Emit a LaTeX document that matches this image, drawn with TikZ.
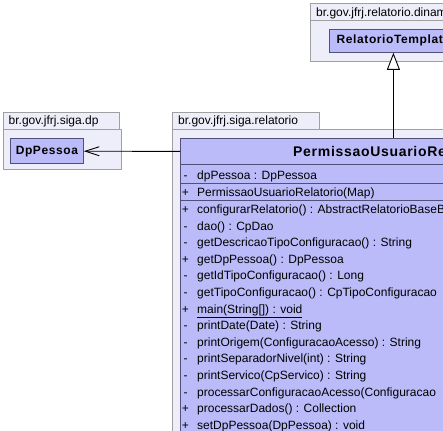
\documentclass[tikz,border=0pt]{standalone}
\usepackage{fontspec}
\setmainfont{Liberation Sans}
\newfontfamily\namefont[LetterSpace=5]{Liberation Sans}
\usetikzlibrary{arrows.meta}
\definecolor{pkgfill}{RGB}{238,238,250}
\definecolor{pkgline}{RGB}{160,160,160}
\definecolor{clsfill}{RGB}{187,187,250}
\definecolor{clsline}{RGB}{80,80,120}
\tikzstyle{pkgbox}=[draw=pkgline,fill=pkgfill,line width=0.8pt,anchor=north west,inner sep=0pt]
\tikzstyle{pkgname}=[anchor=base west,inner sep=0pt,font=\fontsize{12}{14}\selectfont]
\tikzstyle{classbox}=[draw=clsline,fill=clsfill,line width=0.8pt,anchor=north west,inner sep=0pt,font=\namefont\bfseries\fontsize{12}{14}\selectfont]
\tikzstyle{member}=[anchor=base west,inner sep=0pt,font=\fontsize{12}{14}\selectfont]
\tikzstyle{vis}=[anchor=base,inner sep=0pt,font=\fontsize{12}{14}\selectfont]

\begin{document}
\begin{tikzpicture}[x=1pt,y=-1pt]
\useasboundingbox (0,0) rectangle (443,430);
\clip (0,0) rectangle (443,430);
% packages
\node[pkgbox,minimum width=200pt,minimum height=41pt] at (310, 20) (pkgrelbody) {};
\node[pkgbox,minimum width=200pt,minimum height=17pt] at (310, 3) (pkgreltab) {};
\node[pkgname] at (316, 16.5) (pkgrelname) {br.gov.jfrj.relatorio.dinam};
\node[pkgbox,minimum width=118.5pt,minimum height=40pt] at (2.5, 129) (pkgdpbody) {};
\node[pkgbox,minimum width=116pt,minimum height=17pt] at (2.5, 112) (pkgdptab) {};
\node[pkgname] at (8.5, 125) (pkgdpname) {br.gov.jfrj.siga.dp};
\node[pkgbox,minimum width=400pt,minimum height=400pt] at (172, 129) (pkgsigabody) {};
\node[pkgbox,minimum width=147pt,minimum height=17pt] at (172, 112) (pkgsigatab) {};
\node[pkgname] at (178, 125) (pkgsiganame) {br.gov.jfrj.siga.relatorio};
% classes
\node[classbox,minimum width=128pt,minimum height=23pt] at (329, 29) (reltpl) {RelatorioTemplate};
\node[classbox,minimum width=73pt,minimum height=25pt] at (10, 138.3) (dp) {DpPessoa};
\node[classbox,minimum width=426pt,minimum height=26pt,font=\namefont\bfseries\fontsize{14}{16}\selectfont] at (180, 138) (perm) {PermissaoUsuarioRelatorio};
\node[classbox,minimum width=426pt,minimum height=19pt] at (180, 164) (permattr) {};
\node[classbox,minimum width=426pt,minimum height=17pt] at (180, 183) (permctor) {};
\node[classbox,minimum width=426pt,minimum height=300pt] at (180, 200) (permops) {};
\node[vis] at (185.5, 179.5) (va) {-};
\node[member] at (197, 179.5) (attr) {dpPessoa : DpPessoa};
\node[vis] at (185.5, 196.5) (vc) {+};
\node[member] at (197, 196.5) (ctor) {PermissaoUsuarioRelatorio(Map)};
\foreach \v/\t [count=\i] in {+/configurarRelatorio() : AbstractRelatorioBaseB,
  -/dao() : CpDao, -/getDescricaoTipoConfiguracao() : String,
  +/getDpPessoa() : DpPessoa, -/getIdTipoConfiguracao() : Long,
  -/getTipoConfiguracao() : CpTipoConfiguracao, +/{\underline{main(String[]) : void}},
  -/printDate(Date) : String, -/printOrigem(ConfiguracaoAcesso) : String,
  -/printSeparadorNivel(int) : String, -/printServico(CpServico) : String,
  -/processarConfiguracaoAcesso(Configuracao, +/processarDados() : Collection,
  +/setDpPessoa(DpPessoa) : void}
{
  \node[vis] at (185.5, {213.5+16.6*(\i-1)}) (v\i) {\v};
  \node[member] at (197, {213.5+16.6*(\i-1)}) (op\i) {\t};
}
% relations
\draw[line width=0.9pt,-{Straight Barb[length=14pt,width=9pt]}] (perm.west) -- (dp.east);
\draw[line width=0.9pt,-{Triangle[length=17pt,width=13pt,fill=white]}] (perm.north) -- (reltpl.south);
\end{tikzpicture}
\end{document}
